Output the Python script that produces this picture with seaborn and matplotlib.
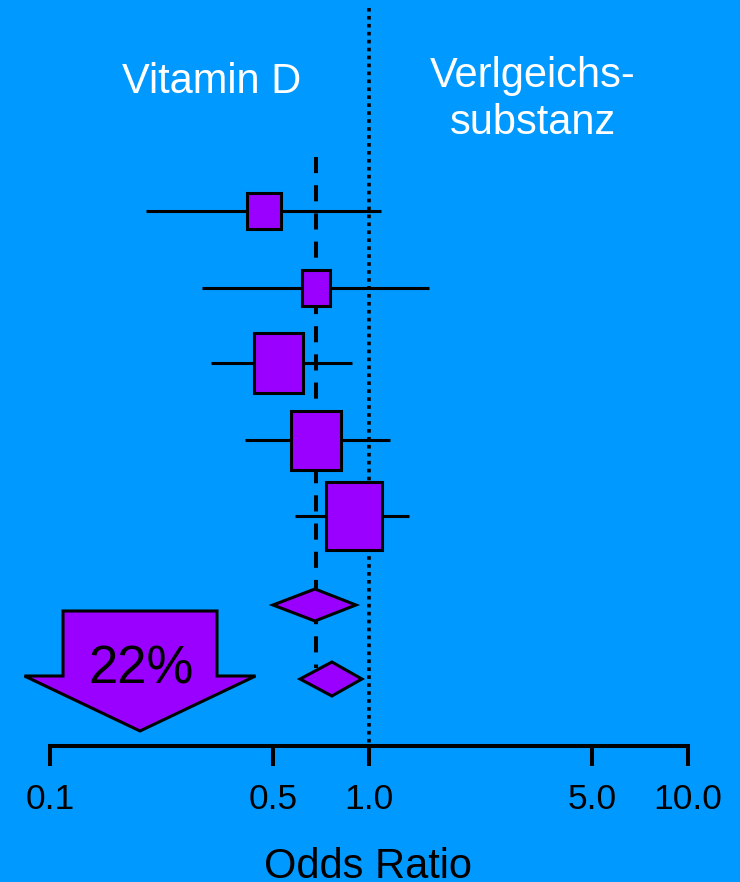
import numpy as np
import pandas as pd
import matplotlib
matplotlib.use("Agg")
import matplotlib.pyplot as plt
import matplotlib.patches as mpatches
import seaborn as sns

# study estimates (odds ratio with 95% CI)
study_or = [0.47, 0.68, 0.52, 0.68, 0.90]
study_lo = [0.20, 0.30, 0.32, 0.41, 0.586]
study_hi = [1.09, 1.54, 0.885, 1.16, 1.335]
# box size (weight) in pixels: width, height
box_w = [34, 28, 49, 50, 56]
box_h = [36, 36, 60, 59, 68]
# pooled estimates
pooled_or = [0.677, 0.765]
pooled_lo = [0.50, 0.608]
pooled_hi = [0.91, 0.95]
pooled_ref = 0.682

tick_vals = [0.1, 0.5, 1.0, 5.0, 10.0]
tick_labels = ["0.1", "0.5", "1.0", "5.0", "10.0"]

# vertical layout (pixel rows from the top of the figure)
study_y = [211, 288, 363, 440, 516]
pooled_y = [605, 679]
pooled_half_h = [16, 17]

BG = "#0099FF"
PURPLE = "#9900FF"

sns.set_style("white", {"axes.facecolor": BG, "figure.facecolor": BG})
plt.rcParams["font.family"] = ["Liberation Sans", "DejaVu Sans"]

W, H = 740, 882
fig = plt.figure(figsize=(W / 100, H / 100), dpi=100)
ax_bottom = 746
ax = fig.add_axes([50 / W, (H - ax_bottom) / H, 638 / W, ax_bottom / H])
ax.set_xscale("log")
ax.set_xlim(0.1, 10)
ax.set_ylim(ax_bottom, 0)
ax.patch.set_alpha(0)

px_per_dec = 638 / 2.0

df = pd.DataFrame({"or": study_or, "lo": study_lo, "hi": study_hi,
                   "w": box_w, "h": box_h, "y": study_y})

# reference lines
ax.vlines(1.0, 8, ax_bottom, colors="black", lw=2.6,
          linestyles=(0, (1, 1.2)), zorder=1)
ax.vlines(pooled_ref, 157, 668, colors="black", lw=2.9,
          linestyles=(0, (4, 3)), zorder=1)

# confidence intervals
ax.hlines(df["y"], df["lo"], df["hi"], colors="black", lw=2.2, zorder=2)

# boxes
for _, r in df.iterrows():
    half = 10 ** (r["w"] / 2 / px_per_dec)
    x0, x1 = r["or"] / half, r["or"] * half
    ax.add_patch(mpatches.Rectangle((x0, r["y"] - r["h"] / 2), x1 - x0, r["h"],
                                    facecolor=PURPLE, edgecolor="black",
                                    lw=2.2, zorder=3))

# pooled diamonds
for c, lo, hi, y, hh in zip(pooled_or, pooled_lo, pooled_hi, pooled_y, pooled_half_h):
    ax.add_patch(mpatches.Polygon([(lo, y), (c, y - hh), (hi, y), (c, y + hh)],
                                  closed=True, facecolor=PURPLE,
                                  edgecolor="black", lw=2.2, zorder=3))

# axis styling
sns.despine(ax=ax, left=True, top=True, right=True)
ax.spines["bottom"].set_linewidth(2.9)
ax.spines["bottom"].set_color("black")
ax.set_yticks([])
ax.set_xticks(tick_vals)
ax.set_xticklabels(tick_labels)
ax.xaxis.set_minor_locator(matplotlib.ticker.NullLocator())
ax.tick_params(axis="x", direction="out", length=14.4, width=2.9,
               colors="black", labelsize=25.5, pad=12, bottom=True)

# overlay in figure pixels for text and arrow
ov = fig.add_axes([0, 0, 1, 1])
ov.set_xlim(0, W)
ov.set_ylim(H, 0)
ov.axis("off")
ov.patch.set_alpha(0)

ov.add_patch(mpatches.FancyArrow(140, 611, 0, 120, width=154, head_width=231,
                                 head_length=55, length_includes_head=True,
                                 facecolor=PURPLE, edgecolor="black", lw=2.2))
ov.text(141, 683, "22%", fontsize=38, color="black", ha="center", va="baseline")

ov.text(212, 93, "Vitamin D", fontsize=30, color="white", ha="center", va="baseline")
ov.text(533, 87, "Verlgeichs-", fontsize=30, color="white", ha="center", va="baseline")
ov.text(533, 134, "substanz", fontsize=30, color="white", ha="center", va="baseline")
ov.text(368, 878, "Odds Ratio", fontsize=30, color="black", ha="center", va="baseline")

fig.savefig("out.png", dpi=100, facecolor=BG)
